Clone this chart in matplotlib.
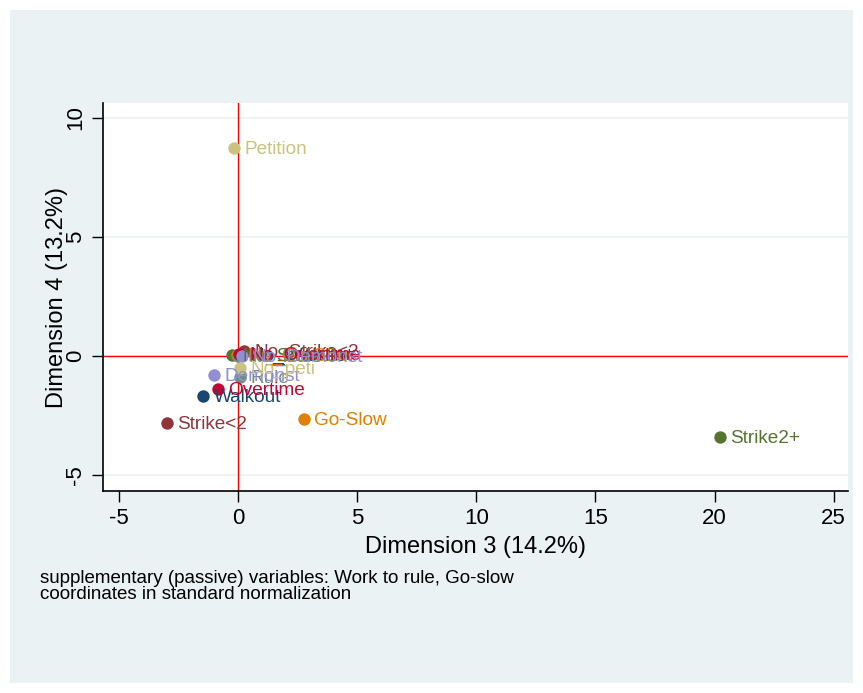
import matplotlib
matplotlib.use("Agg")
import matplotlib.pyplot as plt
from matplotlib.patches import Rectangle

plt.rcParams['font.family'] = ['Liberation Sans', 'DejaVu Sans']
plt.rcParams['axes.unicode_minus'] = False

# Data: categories grouped by variable (each variable has its own colour)
variables = ["walkout", "strike<2", "strike2+", "goslow", "rule", "overtime", "demonst", "petition"]
colors = ["#1a476f", "#90353b", "#55752f", "#e37e00", "#6e8e84", "#c10534", "#938dd2", "#cac27e"]
cat_labels = [
    ["Walkout", "No_Walkout"],
    ["Strike<2", "No_Strike<2"],
    ["Strike2+", "No_Strike2+"],
    ["Go-Slow", "No_Go-Slow"],
    ["Rule", "No_Rule"],
    ["Overtime", "No_Overtime"],
    ["Demonst", "No_Demonst"],
    ["Petition", "No_peti"],
]
dim3 = [
    [-1.47, 0.10],
    [-2.98, 0.25],
    [20.22, -0.25],
    [2.77, -0.05],
    [0.10, 0.00],
    [-0.84, 0.05],
    [-1.00, 0.15],
    [-0.17, 0.08],
]
dim4 = [
    [-1.68, 0.05],
    [-2.80, 0.22],
    [-3.42, 0.05],
    [-2.65, 0.05],
    [-0.88, 0.00],
    [-1.40, 0.08],
    [-0.80, 0.00],
    [8.74, -0.52],
]
xticks = [-5, 0, 5, 10, 15, 20, 25]
yticks = [-5, 0, 5, 10]
xlabel = "Dimension 3 (14.2%)"
ylabel = "Dimension 4 (13.2%)"
note = "supplementary (passive) variables: Work to rule, Go-slow\ncoordinates in standard normalization"

W, H = 863, 693
fig = plt.figure(figsize=(W / 100, H / 100), dpi=100, facecolor="white")
bg = Rectangle((10 / W, 10 / H), (W - 20) / W, (H - 20) / H,
               transform=fig.transFigure, facecolor="#eaf2f3",
               edgecolor="none", zorder=-10)
fig.add_artist(bg)

ax = fig.add_axes([103 / W, 1 - 491 / H, (848 - 103) / W, (491 - 103) / H])
ax.set_zorder(1)
ax.set_facecolor("white")
ax.set_xlim(-5.67, 25.6)
ax.set_ylim(-5.67, 10.63)

for t in yticks:
    ax.axhline(t, color="#eaf2f3", lw=1.2, zorder=0)
ax.axhline(0, color="red", lw=1.0, zorder=1)
ax.axvline(0, color="red", lw=1.0, zorder=1)

for i in range(len(variables)):
    ax.scatter(dim3[i], dim4[i], s=80, color=colors[i], zorder=3, linewidths=0)
    for lab, x, y in zip(cat_labels[i], dim3[i], dim4[i]):
        ax.annotate(lab, (x, y), xytext=(7.5, -1), textcoords="offset points",
                    va="center", ha="left", fontsize=13.7, color=colors[i], zorder=4)

ax.set_xticks(xticks)
ax.set_yticks(yticks)
ax.tick_params(axis="both", direction="out", length=8, width=1, labelsize=16, pad=4)
plt.setp(ax.get_yticklabels(), rotation=90, va="center")
for s in ["top", "right"]:
    ax.spines[s].set_visible(False)
for s in ["left", "bottom"]:
    ax.spines[s].set_linewidth(1.2)
ax.set_xlabel(xlabel, fontsize=17, labelpad=5)
ax.set_ylabel(ylabel, fontsize=17, labelpad=-2)

fig.text(40 / W, 1 - 570 / H, note, fontsize=13.5, va="top", ha="left", linespacing=0.9)

fig.savefig("out.png", dpi=100, facecolor="white")
